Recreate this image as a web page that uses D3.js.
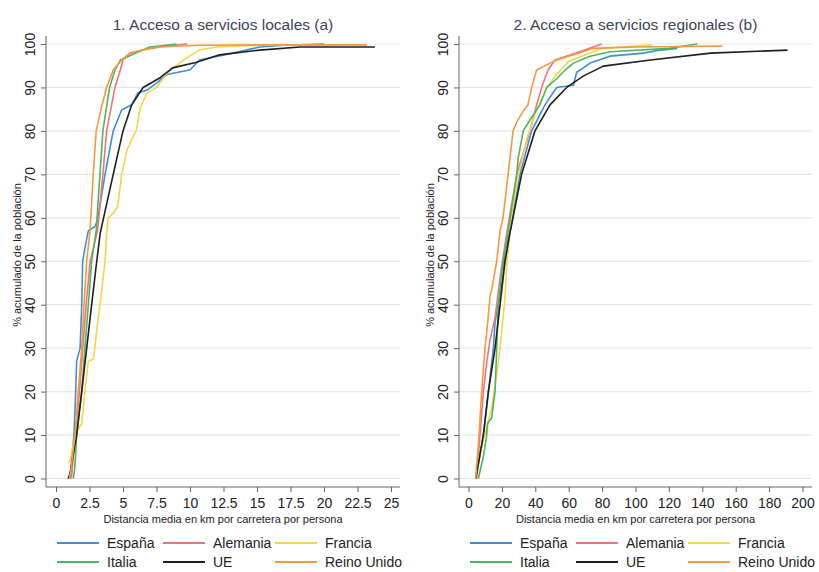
<!DOCTYPE html>
<html>
<head>
<meta charset="utf-8">
<script src="https://cdn.jsdelivr.net/npm/d3@7"></script>
<style>
  body { margin: 0; background: #fff; }
  svg { font-family: "Liberation Sans", Arial, sans-serif; }
</style>
</head>
<body>
<svg id="chart" width="819" height="572"></svg>
<script>
const SERIES = ['España', 'Alemania', 'Francia', 'Italia', 'UE', 'Reino Unido']
const COLORS = {
  'España': '#3d8fdb',
  'Alemania': '#f2737d',
  'Francia': '#f3d64a',
  'Italia': '#4db560',
  'UE': '#1f1f1f',
  'Reino Unido': '#f39a3c',
}

// panel 1: local services, [km, % cumulative]
const local_espana = [[1.04,0],[1.34,10],[1.47,20],[1.54,27],[1.8,30],[1.92,40],[1.99,50],[2.16,53],[2.41,57],[2.9,58],[3.1,59.5],[3.66,70],[4.0,75.6],[4.27,80],[4.9,84.8],[5.65,86],[6.1,88.7],[6.8,89.4],[7.5,91],[8.3,93],[9.3,93.6],[10,94],[10.7,96.3],[13.2,97.9],[15.2,99.3],[17,99.7],[20,100]]
const local_alemania = [[1.15,0],[1.45,10],[1.75,20],[2.0,30],[2.25,40],[2.55,50],[3.1,57],[3.5,70],[3.78,80],[4.4,90],[4.8,94],[5.0,96.3],[5.5,97.9],[6.5,98.6],[7.5,99.3],[9.8,100]]
const local_francia = [[0.9,3.5],[1.04,4],[1.42,10],[1.92,12.7],[2.16,20],[2.41,27],[2.8,27.5],[3.04,34],[3.28,40],[3.66,50],[3.78,56.5],[3.9,60],[4.26,61],[4.6,62.5],[4.9,70],[5.3,75.6],[5.65,78],[6.0,80.2],[6.3,85.5],[6.8,88.7],[7.5,90],[8.3,93.3],[9.5,96.3],[10.7,98.6],[12,99.3],[15,99.7],[23,99.8]]
const local_italia = [[1.3,0],[1.42,3],[1.54,10],[1.92,20],[2.16,30],[2.41,40],[2.66,50],[3.0,57],[3.28,70],[3.5,80],[4.0,90],[4.4,94],[4.8,96.3],[6.0,98],[7.0,99.3],[9.0,100]]
const local_ue = [[0.9,0],[1.04,1],[1.54,10],[1.92,20],[2.29,30],[2.66,40],[3.04,50],[3.3,56.5],[3.55,60],[4.27,70],[5.0,80],[5.65,86],[6.5,90],[7.8,92.3],[8.7,94.5],[10.5,95.8],[12.2,97.5],[15.2,98.6],[18.2,99.3],[23.8,99.3]]
const local_reino = [[1.0,0],[1.12,2],[1.42,10],[1.66,20],[1.92,30],[2.09,40],[2.29,50],[2.54,57],[2.78,70],[3.0,80],[3.4,85.5],[3.78,90],[4.27,94],[4.9,96.3],[5.5,97.9],[6.5,98.6],[7.8,99.3],[10.7,99.7],[15,99.8],[23.2,99.8]]

// panel 2: regional services
const reg_espana = [[4.5,0],[8.9,10],[11.9,20],[14.9,30],[15.9,36],[20,45],[22,52.6],[24.8,56.5],[30.8,70],[37.8,80],[45.8,86],[52.8,90],[62.8,90.5],[64.8,93.5],[72.8,95.6],[84.7,97.2],[104.8,97.9],[115,98.6],[125,99]]
const reg_alemania = [[4.9,0],[6.9,10],[8.9,20],[10.9,26.6],[12.9,31.9],[15.9,37],[19,46.5],[22.9,56.5],[28.9,70],[36.8,80],[40.8,86],[43.8,90],[47.6,94],[51.8,96.3],[64.8,98],[79.8,100]]
const reg_francia = [[4.8,2.7],[11,12],[14,16.5],[17.8,26.6],[19.9,34],[21.9,41.8],[22.9,49.4],[26,61],[30,70],[34.8,78],[40,84],[47,90],[51.8,92.6],[60,96],[70,97.5],[80,99],[110,99.8]]
const reg_italia = [[5.9,0],[8.9,5],[10.9,10],[11.5,12.7],[13.9,14],[15.9,20],[16.9,30],[17.8,40],[20.8,50],[23.8,57],[28.9,70],[29.7,73.7],[32.8,80],[36.8,82.5],[42.8,86],[46.8,90],[52.8,92],[57.8,94],[62.8,95.6],[72.8,97.2],[84.7,98.2],[120,99],[137,100]]
const reg_ue = [[4.3,0],[8.9,10],[11.9,20],[15.9,30],[18.9,40],[21.9,50],[24.8,56.5],[31.8,70],[39.8,80],[48.8,86],[58.8,90],[68.7,92.6],[80.7,94.9],[109,96.3],[145,97.9],[191,98.6]]
const reg_reino = [[4.3,0],[6.3,10],[7.9,20],[9.9,30],[11.5,36],[12.9,42],[13.9,43.5],[16.9,50],[18.9,57],[20.7,60],[23.7,70],[26.7,80],[28.9,82],[32.7,84.5],[35.6,86],[37.8,90],[40.8,94],[48.8,95.6],[52.8,96.3],[66.8,98],[74.6,99],[100,99.3],[152,99.5]]

const Y_TICKS = [0,10,20,30,40,50,60,70,80,90,100]
const LOCAL_TICKS = [0,2.5,5,7.5,10,12.5,15,17.5,20,22.5,25]
const REG_TICKS = [0,20,40,60,80,100,120,140,160,180,200]

const svg = d3.select('#chart')

function Panel(opts){
  const g = svg.append('g')
  const x0 = opts.axisX   // y axis line position
  const right = opts.right
  const axisY = 487

  const x = d3.scaleLinear().domain(opts.domain).range(opts.range)
  const y = d3.scaleLinear().domain([0, 100]).range([478.5, 44])

  // grid
  g.append('g').selectAll('line').data(Y_TICKS)
    .enter().append('line')
      .attr('x1', x0).attr('x2', right)
      .attr('y1', d => y(d)).attr('y2', d => y(d))
      .attr('stroke', '#e6e6e6').attr('stroke-width', 1.2)

  // y axis
  const yAxis = g.append('g')
    .attr('transform', 'translate(' + x0 + ',0)')
    .call(d3.axisLeft(y).tickValues(Y_TICKS).tickSize(5).tickSizeOuter(0))
  yAxis.select('.domain').attr('stroke', '#666').attr('d', 'M0,36V' + axisY)
  yAxis.selectAll('.tick line').attr('stroke', '#666')
  yAxis.selectAll('.tick text')
    .attr('font-size', 14).attr('fill', '#222')
    .attr('transform', 'translate(-16,0) rotate(-90)')
    .attr('x', 0).attr('dy', '0.35em')
    .attr('text-anchor', 'middle')

  // x axis
  const xAxis = g.append('g')
    .attr('transform', 'translate(0,' + axisY + ')')
    .call(d3.axisBottom(x).tickValues(opts.ticks).tickFormat(d => String(d)).tickSize(5).tickSizeOuter(0))
  xAxis.select('.domain').attr('stroke', '#666').attr('d', 'M' + x0 + ',0H' + right)
  xAxis.selectAll('.tick line').attr('stroke', '#666')
  xAxis.selectAll('.tick text').attr('font-size', 14).attr('fill', '#222').attr('dy', '0.95em')

  // titles
  const cx = (x0 + right) / 2
  g.append('text').text(opts.title)
    .attr('x', cx).attr('y', 30)
    .attr('text-anchor', 'middle').attr('font-size', 15.5).attr('fill', '#3d4558')
  g.append('text').text('Distancia media en km por carretera por persona')
    .attr('x', cx).attr('y', 523)
    .attr('text-anchor', 'middle').attr('font-size', 11).attr('fill', '#222')
  g.append('text').text('% acumulado de la población')
    .attr('transform', 'translate(' + (x0 - 25) + ',255) rotate(-90)')
    .attr('text-anchor', 'middle').attr('font-size', 11).attr('fill', '#222')

  // lines
  const line = d3.line().x(d => x(d[0])).y(d => y(d[1]))
  SERIES.forEach((s, i) => {
    g.append('path')
      .datum(opts.data[i])
      .attr('fill', 'none')
      .attr('stroke', COLORS[s])
      .attr('stroke-width', 1.6)
      .attr('stroke-linejoin', 'round')
      .attr('d', line)
  })

  // legend
  const cols = [11, 117, 229]
  const rows = [548, 567]
  SERIES.forEach((s, i) => {
    const lx = x0 + cols[i % 3]
    const ly = rows[Math.floor(i / 3)]
    g.append('line')
      .attr('x1', lx).attr('x2', lx + 42)
      .attr('y1', ly - 5).attr('y2', ly - 5)
      .attr('stroke', COLORS[s]).attr('stroke-width', 2)
    g.append('text').text(s)
      .attr('x', lx + 50).attr('y', ly)
      .attr('font-size', 14).attr('fill', '#222')
  })
}

Panel({
  title: '1. Acceso a servicios locales (a)',
  axisX: 46, right: 400,
  domain: [0, 25], range: [56, 391],
  ticks: LOCAL_TICKS,
  data: [local_espana, local_alemania, local_francia, local_italia, local_ue, local_reino]
})

Panel({
  title: '2. Acceso a servicios regionales (b)',
  axisX: 459, right: 812,
  domain: [0, 200], range: [468.5, 802.5],
  ticks: REG_TICKS,
  data: [reg_espana, reg_alemania, reg_francia, reg_italia, reg_ue, reg_reino]
})
</script>
</body>
</html>
